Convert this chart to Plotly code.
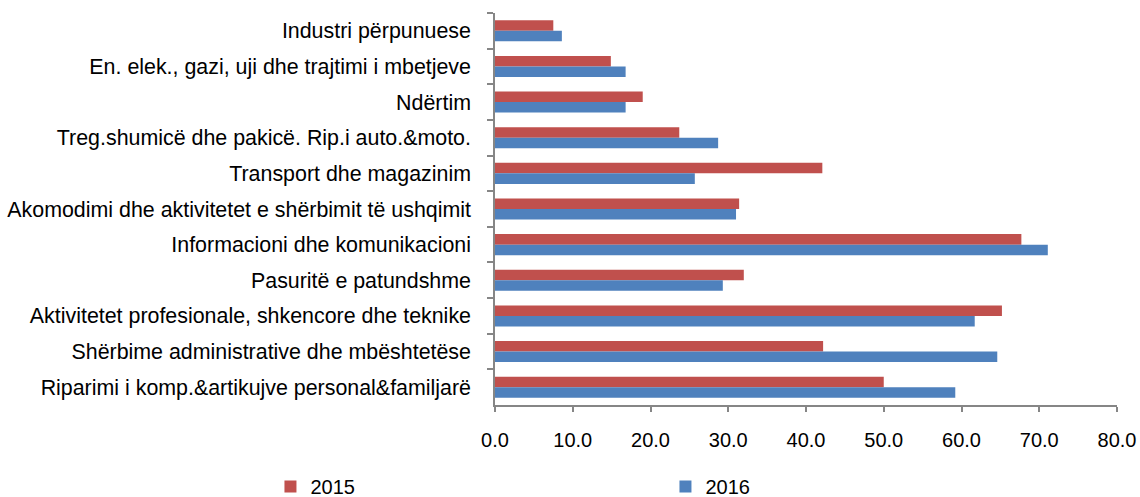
import plotly.graph_objects as go

categories = [
    "Industri përpunuese",
    "En. elek., gazi, uji dhe trajtimi i mbetjeve",
    "Ndërtim",
    "Treg.shumicë dhe pakicë. Rip.i auto.&moto.",
    "Transport dhe magazinim",
    "Akomodimi dhe aktivitetet e shërbimit të ushqimit",
    "Informacioni dhe komunikacioni",
    "Pasuritë e patundshme",
    "Aktivitetet profesionale, shkencore dhe teknike",
    "Shërbime administrative dhe mbështetëse",
    "Riparimi i komp.&artikujve personal&familjarë",
]
values_2015 = [7.5, 14.9, 19.0, 23.7, 42.1, 31.4, 67.7, 32.0, 65.2, 42.2, 50.0]
values_2016 = [8.6, 16.8, 16.8, 28.7, 25.7, 31.0, 71.1, 29.3, 61.7, 64.6, 59.2]
x_ticks = [0, 10, 20, 30, 40, 50, 60, 70, 80]

FONT = "Liberation Sans, Arial, sans-serif"
AXIS = "#868686"

fig = go.Figure()
fig.add_trace(go.Bar(y=categories, x=values_2015, name="2015", orientation="h",
                     marker=dict(color="#C0504D", line=dict(width=0))))
fig.add_trace(go.Bar(y=categories, x=values_2016, name="2016", orientation="h",
                     marker=dict(color="#4F81BD", line=dict(width=0))))

fig.update_layout(
    width=1140, height=497,
    margin=dict(l=495, r=23, t=13, b=92, autoexpand=False),
    paper_bgcolor="white", plot_bgcolor="white",
    barmode="group", bargap=0.41, bargroupgap=0,
    font=dict(family=FONT, size=20, color="#000000"),
    showlegend=True,
    legend=dict(orientation="h",
                x=-0.361, xanchor="left", y=-0.208, yanchor="middle",
                entrywidth=350, entrywidthmode="pixels",
                font=dict(family=FONT, size=20, color="#000000"),
                bgcolor="rgba(0,0,0,0)", itemwidth=30),
)
fig.update_xaxes(
    range=[0, 80], tickvals=x_ticks, tickformat=".1f",
    showgrid=False, zeroline=False, automargin=False,
    showline=True, linecolor=AXIS, linewidth=1.5,
    ticks="outside", ticklen=5, tickcolor=AXIS, tickwidth=1.5,
    ticklabelstandoff=11,
    tickfont=dict(family=FONT, size=20, color="#000000"),
)
fig.update_yaxes(
    autorange="reversed", type="category",
    showgrid=False, zeroline=False, automargin=False,
    showline=True, linecolor=AXIS, linewidth=1.5,
    ticks="outside", ticklen=6, tickcolor=AXIS, tickwidth=1.5,
    tickson="boundaries", ticklabelstandoff=18,
    tickfont=dict(family=FONT, size=21.4, color="#000000"),
)

fig.write_html("out.html", config={"displayModeBar": False},
               post_script="document.body.style.margin='0';document.body.style.overflow='hidden';")
